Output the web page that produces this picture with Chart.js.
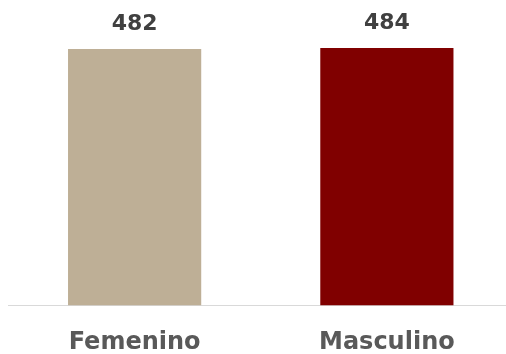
<!DOCTYPE html>
<html>
<head>
<meta charset="utf-8">
<script src="https://cdn.jsdelivr.net/npm/chart.js@4/dist/chart.umd.min.js"></script>
<style>
  html, body { margin: 0; padding: 0; background: #fff; overflow: hidden; }
  #wrap { width: 506px; height: 354px; overflow: hidden; }
</style>
</head>
<body>
<div id="wrap"><canvas id="generoChart" width="513" height="354"></canvas></div>
<script>
// datos del grafico
var categorias = ['Femenino', 'Masculino'];
var valores = [482, 484];
var colores = ['#BEAF96', '#800000'];

// etiquetas de valor arriba de cada barra
var etiquetasValor = {
    id: 'etiquetasValor',
    afterDatasetsDraw: function(chart) {
        var ctx = chart.ctx;
        var meta = chart.getDatasetMeta(0);
        ctx.save();
        ctx.font = 'bold 22px "DejaVu Sans"';
        ctx.fillStyle = '#404040';
        ctx.textAlign = 'center';
        ctx.textBaseline = 'alphabetic';
        meta.data.forEach(function(bar, i) {
            ctx.fillText(valores[i], bar.x, bar.y - 19);
        });
        ctx.restore();
    }
};

var ctx = document.getElementById('generoChart').getContext('2d');
var myChart = new Chart(ctx, {
    type: 'bar',
    data: {
        labels: categorias,
        datasets: [{
            data: valores,
            backgroundColor: colores,
            borderWidth: 0,
            barPercentage: 0.528,
            categoryPercentage: 1
        }]
    },
    options: {
        responsive: false,
        animation: false,
        layout: {
            padding: { top: 7.5, left: 8.5, right: 0, bottom: 0 }
        },
        scales: {
            x: {
                grid: { display: false },
                border: { display: true, color: '#d9d9d9', width: 1 },
                ticks: {
                    color: '#595959',
                    padding: 14.5,
                    font: { family: 'DejaVu Sans', size: 24, weight: 'bold' }
                },
                afterFit: function(scale) {
                    scale.height = 48.5;
                }
            },
            y: {
                display: false,
                min: 0,
                max: 560
            }
        },
        plugins: {
            legend: { display: false },
            tooltip: { enabled: false }
        }
    },
    plugins: [etiquetasValor]
});
</script>
</body>
</html>
